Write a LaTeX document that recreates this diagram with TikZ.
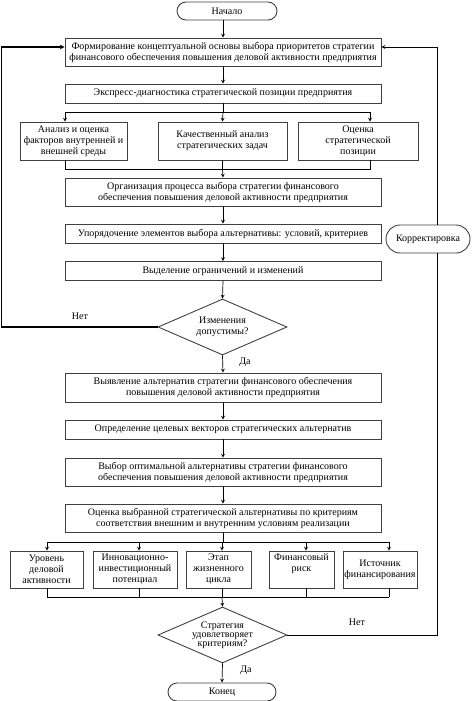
\documentclass[tikz,border=0pt]{standalone}
\usepackage{fontspec}
\setmainfont{Liberation Serif}
\usepackage{tikz}
\usetikzlibrary{shapes,positioning}
\tikzset{box/.style={rectangle,draw=black!75,line width=0.9pt,minimum width=316pt,minimum height=19pt,inner sep=1pt,align=center,font=\fontsize{10}{11}\selectfont},
  sbox/.style={rectangle,draw=black!75,line width=0.9pt,minimum height=37pt,inner sep=1pt,align=center,font=\fontsize{10}{11}\selectfont},
  term/.style={rounded rectangle,draw=black!75,line width=0.9pt,minimum height=18pt,inner sep=1pt,font=\fontsize{10}{11}\selectfont},
  dec/.style={diamond,draw=black!75,line width=0.9pt,minimum width=129pt,minimum height=56pt,inner sep=0pt,aspect=2.3},
  lbl/.style={font=\fontsize{10}{11}\selectfont}}

\begin{document}
\begin{tikzpicture}[>=stealth,x=1pt,y=-1pt,line width=0.7pt]
        \useasboundingbox (0,0) rectangle (474,701);
        \node[term,minimum width=102pt] (st) at (227,11) {Начало};
        \node[box,minimum height=28pt] (b1) at (223,52) {Формирование концептуальной основы выбора приоритетов стратегии\\финансового обеспечения повышения деловой активности предприятия};
        \node[box] (b2) at (223,93.5) {Экспресс-диагностика стратегической позиции предприятия};
        \node[sbox,minimum width=107pt,minimum height=38pt] (a1) at (73.5,141) {Анализ и оценка\\факторов внутренней и\\внешней среды};
        \node[sbox,minimum width=129pt,minimum height=38pt] (a2) at (222.5,141) {Качественный анализ\\стратегических задач};
        \node[sbox,minimum width=120pt,minimum height=38pt] (a3) at (358,141) {Оценка\\стратегической\\позиции};
        \node[box,minimum height=28pt] (b4) at (223,192) {Организация процесса выбора стратегии финансового\\обеспечения повышения деловой активности предприятия};
        \node[box] (b5) at (223,233.5) {Упорядочение элементов выбора альтернативы: условий, критериев};
        \node[box] (b6) at (223,271) {Выделение ограничений и изменений};
        \node[dec] (d1) at (222.5,327) {};
        \node[lbl,align=center] (d1t) at (d1) {Изменения\\допустимы?};
        \node[box,minimum height=29pt] (b7) at (223,387.5) {Выявление альтернатив стратегии финансового обеспечения\\повышения деловой активности предприятия};
        \node[box] (b8) at (223,429.5) {Определение целевых векторов стратегических альтернатив};
        \node[box,minimum height=28pt] (b9) at (223,472) {Выбор оптимальной альтернативы стратегии финансового\\обеспечения повышения деловой активности предприятия};
        \node[box,minimum height=28pt] (b10) at (223,518) {Оценка выбранной стратегической альтернативы по критериям\\соответствия внешним и внутренним условиям реализации};
        \node[sbox,minimum width=73pt] (c1) at (46.5,569.5) {Уровень\\деловой\\активности};
        \node[sbox,minimum width=84pt] (c2) at (135,569.5) {Инновационно-\\инвестиционный\\потенциал};
        \node[sbox,minimum width=65pt] (c3) at (218.5,569.5) {Этап\\жизненного\\цикла};
        \node[sbox,minimum width=65pt] (c4) at (301.5,569.5) {Финансовый\\риск\\\strut};
        \node[sbox,minimum width=74pt] (c5) at (380,569.5) {Источник\\финансирования};
        \node[dec] (d2) at (222.5,635) {};
        \node[lbl,align=center,font=\fontsize{10}{9}\selectfont] (d2t) at (d2) {Стратегия\\удовлетворяет\\критериям?};
        \node[term,minimum width=110pt] (en) at (222,692) {Конец};
        \node[term,minimum width=86pt,minimum height=28pt] (kor) at (428,239) {Корректировка};

        % labels
        \node[lbl] (no1) at (80,316) {Нет};
        \node[lbl] (yes1) at (245,362) {Да};
        \node[lbl] (no2) at (357,622) {Нет};
        \node[lbl] (yes2) at (246,670) {Да};

        % main line
        \draw [->] (st.south -| b1) to (b1.north);
        \draw [->] (b1) to (b2);
        \coordinate (fl) at (65,112);
        \coordinate (fr) at (370,112);
        \draw (fl) -- (fr);
        \draw (b2.south) -- (b2.south |- fl);
        \draw [->] (fl) -- (fl |- a1.north);
        \draw [->] (b2.south |- fl) -- (a2.north);
        \draw [->] (fr) -- (fr |- a3.north);
        \coordinate (gl) at (65,169);
        \coordinate (gr) at (370,169);
        \draw (gl |- a1.south) -- (gl) -- (gr) -- (gr |- a3.south);
        \draw (a2.south) -- (a2.south |- gl);
        \draw [->] (a2.south |- gl) -- (b4.north);
        \draw [->] (b4) to (b5);
        \draw [->] (b5) to (b6);
        \draw [->] (b6.south) to (d1.north);
        \draw [->] (d1.south) to (b7.north);
        \draw [->] (b7) to (b8);
        \draw [->] (b8) to (b9);
        \draw [->] (b9) to (b10);

        % five criteria
        \coordinate (hl) at (47,542);
        \coordinate (hr) at (389,542);
        \coordinate (kl) at (47,597);
        \coordinate (kr) at (389,597);
        \draw (b10.south) -- (b10.south |- hl);
        \draw (hl) -- (hr);
        \draw (kl) -- (kr);
        \foreach \n/\xx in {c1/47,c2/139,c3/222,c4/306,c5/389} {
            \coordinate (h\n) at (\xx,542);
            \draw [->] (h\n) -- (h\n |- \n.north);
            \draw (h\n |- \n.south) -- (h\n |- kl);
        }
        \draw [->] (hc3 |- kl) -- (d2.north);
        \draw [->] (d2.south) to (en.north);

        % loops
        \coordinate (lft) at (1.5,47);
        \draw [->,line width=1.1pt] (d1.west) -| (lft) -- ([yshift=5pt]b1.west);
        \draw (d2.east) -| ([xshift=9pt]kor.south);
        \draw [->] ([xshift=9pt]kor.north) |- ([yshift=5pt]b1.east);
    \end{tikzpicture}
\end{document}
